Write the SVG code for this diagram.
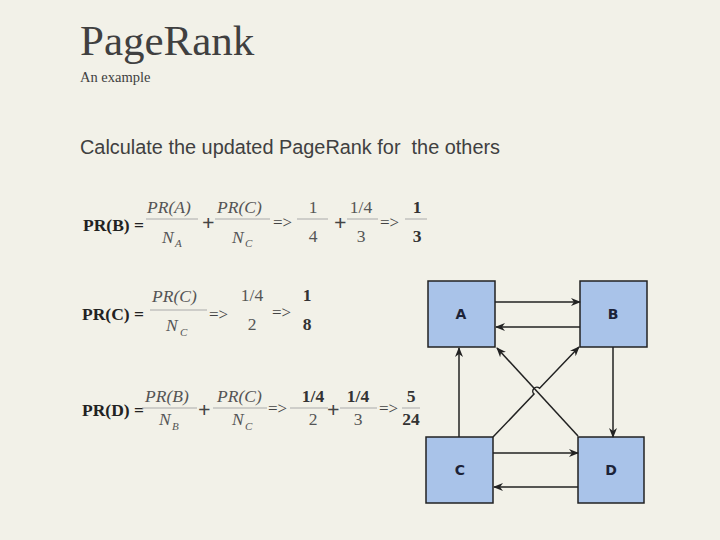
<svg xmlns="http://www.w3.org/2000/svg" width="720" height="540" viewBox="0 0 720 540">
<style>
.bg{fill:#f2f1e8}
.ttl{font-family:"Liberation Serif",serif;fill:#404040}
.sub{font-family:"Liberation Sans",sans-serif;fill:#404040;white-space:pre}
.lhs{font-family:"Liberation Serif",serif;font-weight:bold;font-size:17.5px;fill:#222}
.it{font-family:"Liberation Serif",serif;font-style:italic;font-size:17.5px;fill:#555}
.sb{font-family:"Liberation Serif",serif;font-style:italic;font-size:11px;fill:#555}
.num{font-family:"Liberation Serif",serif;font-size:17.5px;fill:#555;text-anchor:middle}
.bnum{font-family:"Liberation Serif",serif;font-size:17.5px;font-weight:bold;fill:#333;text-anchor:middle}
.op{font-family:"Liberation Serif",serif;font-size:22px;font-weight:bold;fill:#444}
.ar{font-family:"Liberation Serif",serif;font-size:17px;fill:#444}
.fl{stroke:#aaa;stroke-width:1}
.box{fill:#a9c3e9;stroke:#222;stroke-width:1.5}
.lbl{font-family:"DejaVu Sans",sans-serif;font-weight:bold;font-size:14px;fill:#1c2338;text-anchor:middle}
.cn{stroke:#222;stroke-width:1.5;fill:none;marker-end:url(#ah)}
</style>
<defs>
<marker id="ah" markerWidth="10" markerHeight="8" refX="9" refY="4" orient="auto" markerUnits="userSpaceOnUse">
<path d="M0,0 L10,4 L0,8 L3,4 z" fill="#222"/>
</marker>
</defs>
<rect class="bg" x="0" y="0" width="720" height="540"/>
<text class="ttl" x="80" y="55" font-size="43">PageRank</text>
<text class="ttl" x="80" y="82" font-size="14.5">An example</text>
<text class="sub" x="80" y="154" font-size="20" textLength="420" lengthAdjust="spacingAndGlyphs">Calculate the updated PageRank for  the others</text>

<g id="eqB">
<text class="lhs" x="83" y="231">PR(B) =</text>
<text class="it" x="147" y="213">PR(A)</text>
<line class="fl" x1="146" y1="219" x2="198" y2="219"/>
<text class="it" x="162" y="243">N</text><text class="sb" x="175" y="247">A</text>
<text class="op" x="202" y="230">+</text>
<text class="it" x="217" y="213">PR(C)</text>
<line class="fl" x1="215" y1="219" x2="270" y2="219"/>
<text class="it" x="232" y="243">N</text><text class="sb" x="245" y="247">C</text>
<text class="ar" x="273" y="228">=&gt;</text>
<text class="num" x="313" y="213">1</text>
<line class="fl" x1="297" y1="219" x2="328" y2="219"/>
<text class="num" x="313" y="242">4</text>
<text class="op" x="334" y="230">+</text>
<text class="num" x="361" y="213">1/4</text>
<line class="fl" x1="347" y1="219" x2="378" y2="219"/>
<text class="num" x="361" y="242">3</text>
<text class="ar" x="380" y="228">=&gt;</text>
<text class="bnum" x="417" y="213">1</text>
<line class="fl" x1="405" y1="219" x2="427" y2="219"/>
<text class="bnum" x="417" y="242">3</text>
</g>

<g id="eqC">
<text class="lhs" x="82" y="320">PR(C) =</text>
<text class="it" x="152" y="302">PR(C)</text>
<line class="fl" x1="150" y1="310" x2="207" y2="310"/>
<text class="it" x="166" y="331">N</text><text class="sb" x="180" y="336">C</text>
<text class="ar" x="209" y="320">=&gt;</text>
<text class="num" x="252" y="301">1/4</text>
<text class="num" x="252" y="330">2</text>
<text class="ar" x="272" y="318">=&gt;</text>
<text class="bnum" x="307" y="301">1</text>
<text class="bnum" x="307" y="330">8</text>
</g>

<g id="eqD">
<text class="lhs" x="82" y="416">PR(D) =</text>
<text class="it" x="145" y="402">PR(B)</text>
<line class="fl" x1="142" y1="408" x2="197" y2="408"/>
<text class="it" x="159" y="425">N</text><text class="sb" x="172" y="430">B</text>
<text class="op" x="198" y="417">+</text>
<text class="it" x="217" y="402">PR(C)</text>
<line class="fl" x1="213" y1="408" x2="267" y2="408"/>
<text class="it" x="232" y="425">N</text><text class="sb" x="245" y="430">C</text>
<text class="ar" x="268" y="414">=&gt;</text>
<text class="bnum" x="313" y="402">1/4</text>
<line class="fl" x1="290" y1="408" x2="328" y2="408"/>
<text class="num" x="313" y="425">2</text>
<text class="op" x="327" y="417">+</text>
<text class="bnum" x="358" y="402">1/4</text>
<line class="fl" x1="340" y1="408" x2="377" y2="408"/>
<text class="num" x="358" y="425">3</text>
<text class="ar" x="379" y="414">=&gt;</text>
<text class="bnum" x="411" y="402">5</text>
<line class="fl" x1="402" y1="408" x2="420" y2="408"/>
<text class="bnum" x="411" y="425">24</text>
</g>

<g id="A"><rect class="box" x="428" y="281" width="67" height="66"/><text class="lbl" x="461" y="319">A</text></g>
<g id="B"><rect class="box" x="580" y="281" width="67" height="66"/><text class="lbl" x="613" y="319">B</text></g>
<g id="C"><rect class="box" x="426" y="437" width="67" height="66"/><text class="lbl" x="460" y="475">C</text></g>
<g id="D"><rect class="box" x="578" y="437" width="66" height="66"/><text class="lbl" x="611" y="475">D</text></g>

<g id="connectors">
<line class="cn" x1="495" y1="302" x2="580" y2="302"/>
<line class="cn" x1="580" y1="327" x2="496" y2="327"/>
<line class="cn" x1="613" y1="347" x2="613" y2="437"/>
<line class="cn" x1="459" y1="437" x2="459" y2="348"/>
<path class="cn" d="M493,437 L534,394.1 A4,4 0 0 1 539.6,388.3 L579,347"/>
<line class="cn" x1="578" y1="436" x2="497" y2="348"/>
<line class="cn" x1="493" y1="453" x2="578" y2="453"/>
<line class="cn" x1="578" y1="487" x2="494" y2="487"/>
</g>
</svg>
